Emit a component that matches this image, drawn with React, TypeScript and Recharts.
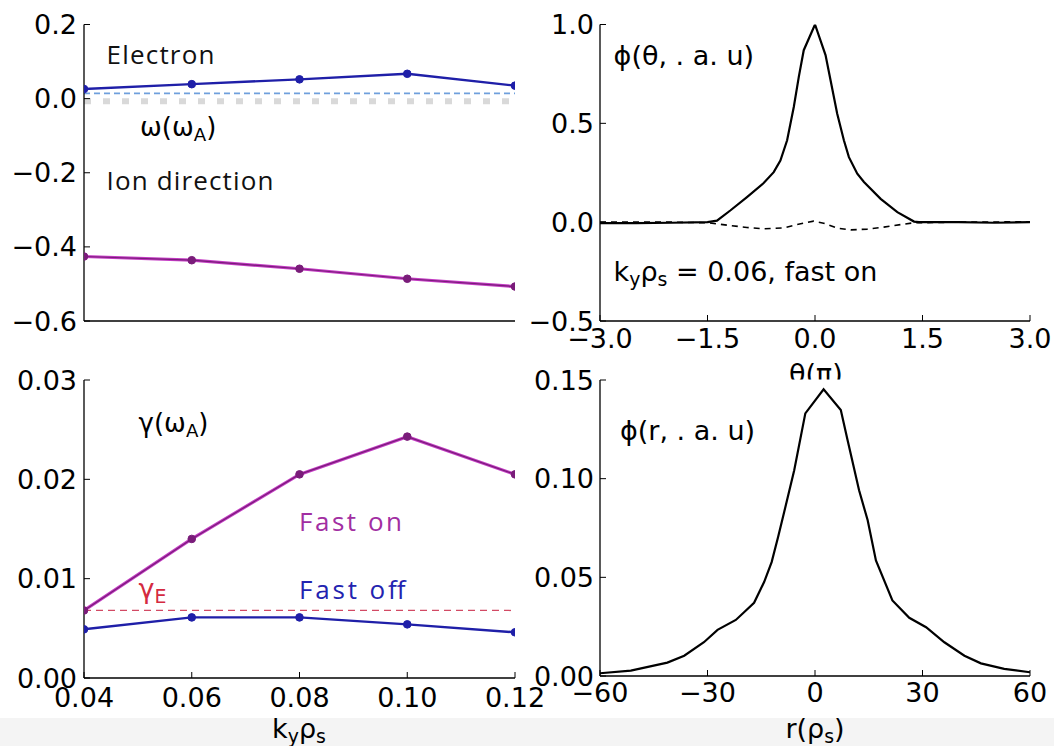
import React from 'react';
import { LineChart, Line, XAxis, YAxis, ReferenceLine } from 'recharts';

const W = 1054;
const H = 746;

// ---------- data ----------
const kValues = [0.04, 0.06, 0.08, 0.1, 0.12];
const omegaFastOff = [0.026, 0.039, 0.052, 0.067, 0.035];
const omegaFastOn = [-0.426, -0.436, -0.459, -0.486, -0.507];
const omegaRefLine = 0.014;
const omegaZeroLine = -0.007;

const gammaFastOn = [0.0068, 0.014, 0.0205, 0.0243, 0.0205];
const gammaFastOff = [0.0049, 0.0061, 0.0061, 0.0054, 0.0046];
const gammaE = 0.0068;

const thetaSolid = [-3.0, -2.5, -2.0, -1.5, -1.368, -1.182, -0.949, -0.716, -0.576, -0.483, -0.389, -0.296, -0.226, -0.157, 0.0, 0.147, 0.217, 0.31, 0.403, 0.473, 0.59, 0.683, 0.916, 1.149, 1.382, 1.45, 2.0, 2.5, 3.0];
const phiSolid = [-0.005, -0.005, -0.003, 0.0, 0.008, 0.059, 0.127, 0.198, 0.253, 0.312, 0.414, 0.583, 0.735, 0.87, 1.0, 0.845, 0.718, 0.549, 0.414, 0.329, 0.245, 0.203, 0.118, 0.051, 0.003, 0.0, 0.0, -0.003, 0.0];
const thetaDash = [-3.0, -2.0, -1.5, -1.18, -0.95, -0.72, -0.44, -0.2, -0.02, 0.12, 0.31, 0.5, 0.73, 0.96, 1.2, 1.38, 2.0, 3.0];
const phiDash = [0.0, 0.0, -0.003, -0.017, -0.027, -0.034, -0.029, -0.008, 0.005, -0.005, -0.03, -0.039, -0.035, -0.025, -0.012, -0.003, 0.0, 0.002];

const rValues = [-60, -51.4, -41.2, -36.5, -31, -27.2, -22.1, -19.8, -17, -14.2, -12.1, -10.3, -8.6, -5.8, -2.7, 2.4, 7.2, 9.1, 12.3, 14.7, 17, 21.6, 26.3, 31, 36.1, 41.7, 46.3, 52.8, 60];
const phiR = [0.0014, 0.0027, 0.0068, 0.0103, 0.0171, 0.0234, 0.0284, 0.0323, 0.0371, 0.0476, 0.0577, 0.0704, 0.0831, 0.1043, 0.1331, 0.1453, 0.1348, 0.1195, 0.0941, 0.0789, 0.0586, 0.0383, 0.0295, 0.0247, 0.0171, 0.0103, 0.0064, 0.0036, 0.0019];

// ---------- ticks ----------
const kTicks = [0.04, 0.06, 0.08, 0.1, 0.12];
const kTickLabels = ['0.04', '0.06', '0.08', '0.10', '0.12'];
const omegaTicks = [0.2, 0, -0.2, -0.4, -0.6];
const omegaTickLabels = ['0.2', '0.0', '\u22120.2', '\u22120.4', '\u22120.6'];
const gammaTicks = [0, 0.01, 0.02, 0.03];
const gammaTickLabels = ['0.00', '0.01', '0.02', '0.03'];
const thetaTicks = [-3, -1.5, 0, 1.5, 3];
const thetaTickLabels = ['\u22123.0', '\u22121.5', '0.0', '1.5', '3.0'];
const phiThetaTicks = [-0.5, 0, 0.5, 1];
const phiThetaTickLabels = ['\u22120.5', '0.0', '0.5', '1.0'];
const rTicks = [-60, -30, 0, 30, 60];
const rTickLabels = ['\u221260', '\u221230', '0', '30', '60'];
const phiRTicks = [0, 0.05, 0.1, 0.15];
const phiRTickLabels = ['0.00', '0.05', '0.10', '0.15'];

const toPoints = (xs: number[], ys: number[]) => xs.map((x, i) => ({ x, y: ys[i] }));

const FONT = '"DejaVu Sans", Verdana, sans-serif';
const ANNOT = '"Open Sans", Lato, sans-serif';
const tickStyle = { fontFamily: FONT, fontSize: 27, fill: '#000' };

const BLUE = '#1f1fa8';
const PURPLE_DARK = '#7a1c7a';
const PURPLE_GLOW = '#c43cc4';

function fmt(values: number[], labels: string[]) {
  return (v: number) => {
    const i = values.findIndex((t) => Math.abs(t - v) < 1e-9);
    return i >= 0 ? labels[i] : '';
  };
}

type Frame = { left: number; right: number; top: number; bottom: number };

function Panel(props: {
  frame: Frame;
  xDomain: [number, number];
  xTicks: number[];
  xLabels: string[];
  showX: boolean;
  xMargin: number;
  yDomain: [number, number];
  yTicks: number[];
  yLabels: string[];
  yMargin: number;
  children: React.ReactNode;
}) {
  const { frame, xDomain, xTicks, xLabels, showX, xMargin, yDomain, yTicks, yLabels, yMargin, children } = props;
  const yW = 80;
  const xH = 45;
  const margin = {
    top: frame.top,
    right: W - frame.right,
    bottom: H - frame.bottom - xH,
    left: frame.left - yW,
  };
  const axisLine = { stroke: '#000', strokeWidth: 1.3 };
  const tickLine = { stroke: '#000', strokeWidth: 1 };
  return (
    <div style={{ position: 'absolute', left: 0, top: 0, width: W, height: H }}>
      <LineChart width={W} height={H} margin={margin}>
        <XAxis
          xAxisId="b"
          type="number"
          dataKey="x"
          domain={xDomain}
          ticks={xTicks}
          allowDataOverflow
          interval={0}
          height={xH}
          tick={showX ? tickStyle : false}
          tickFormatter={fmt(xTicks, xLabels)}
          tickSize={-6}
          tickMargin={xMargin}
          axisLine={axisLine}
          tickLine={tickLine}
        />
        <XAxis
          xAxisId="t"
          orientation="top"
          type="number"
          domain={xDomain}
          ticks={xTicks}
          allowDataOverflow
          interval={0}
          height={0}
          tick={false}
          tickSize={-6}
          axisLine={axisLine}
          tickLine={tickLine}
        />
        <YAxis
          yAxisId="l"
          type="number"
          domain={yDomain}
          ticks={yTicks}
          allowDataOverflow
          interval={0}
          width={yW}
          tick={tickStyle}
          tickFormatter={fmt(yTicks, yLabels)}
          tickSize={-6}
          tickMargin={yMargin}
          axisLine={axisLine}
          tickLine={tickLine}
        />
        <YAxis
          yAxisId="r"
          orientation="right"
          type="number"
          domain={yDomain}
          ticks={yTicks}
          allowDataOverflow
          interval={0}
          width={0}
          tick={false}
          tickSize={-6}
          axisLine={axisLine}
          tickLine={tickLine}
        />
        {children}
      </LineChart>
    </div>
  );
}

function Sub(props: { x: number; y: number; parts: [string, boolean][]; size: number; fill?: string; anchor?: 'start' | 'middle' | 'end'; family?: string }) {
  const { x, y, parts, size, fill = '#000', anchor = 'start', family = FONT } = props;
  let sub = false;
  return (
    <text x={x} y={y} fontFamily={family} fontSize={size} fill={fill} textAnchor={anchor}>
      {parts.map(([s, isSub], i) => {
        let dy = 0;
        if (isSub && !sub) dy = size * 0.2;
        if (!isSub && sub) dy = -size * 0.2;
        sub = isSub;
        return (
          <tspan key={i} dy={dy} fontSize={isSub ? size * 0.7 : size}>
            {s}
          </tspan>
        );
      })}
    </text>
  );
}

export default function App() {
  const tlFrame = { left: 84, right: 515, top: 24.5, bottom: 321 };
  const blFrame = { left: 84, right: 515, top: 380, bottom: 678 };
  const trFrame = { left: 600, right: 1030, top: 24.5, bottom: 321 };
  const brFrame = { left: 600, right: 1030, top: 380, bottom: 676 };

  const omegaOffPts = toPoints(kValues, omegaFastOff);
  const omegaOnPts = toPoints(kValues, omegaFastOn);
  const gammaOnPts = toPoints(kValues, gammaFastOn);
  const gammaOffPts = toPoints(kValues, gammaFastOff);
  const solidPts = toPoints(thetaSolid, phiSolid);
  const dashPts = toPoints(thetaDash, phiDash);
  const rPts = toPoints(rValues, phiR);

  return (
    <div style={{ position: 'absolute', left: 0, top: 0, width: W, height: H, background: '#fff', overflow: 'hidden' }}>
      <div style={{ position: 'absolute', left: 0, top: 718, width: W, height: H - 718, background: '#f4f4f4' }} />

      {/* top-left: omega */}
      <Panel frame={tlFrame} xDomain={[0.04, 0.12]} xTicks={kTicks} xLabels={kTickLabels} showX={false} xMargin={15}
        yDomain={[-0.6, 0.2]} yTicks={omegaTicks} yLabels={omegaTickLabels} yMargin={13}>
        <ReferenceLine xAxisId="b" yAxisId="l" y={omegaZeroLine} stroke="#d9d9d9" strokeWidth={6} strokeDasharray="7 12" />
        <ReferenceLine xAxisId="b" yAxisId="l" y={omegaRefLine} stroke="#6f9fdc" strokeWidth={1.8} strokeDasharray="6 4" />
        <Line xAxisId="b" yAxisId="l" data={omegaOffPts} dataKey="y" type="linear" stroke={BLUE} strokeWidth={2.4}
          dot={{ r: 3.8, fill: BLUE, stroke: BLUE, strokeWidth: 1 }} isAnimationActive={false} />
        <Line xAxisId="b" yAxisId="l" data={omegaOnPts} dataKey="y" type="linear" stroke={PURPLE_GLOW} strokeWidth={3.2}
          dot={false} isAnimationActive={false} />
        <Line xAxisId="b" yAxisId="l" data={omegaOnPts} dataKey="y" type="linear" stroke={PURPLE_DARK} strokeWidth={1.2}
          dot={{ r: 3.8, fill: PURPLE_DARK, stroke: PURPLE_DARK, strokeWidth: 1 }} isAnimationActive={false} />
      </Panel>

      {/* bottom-left: gamma */}
      <Panel frame={blFrame} xDomain={[0.04, 0.12]} xTicks={kTicks} xLabels={kTickLabels} showX={true} xMargin={16}
        yDomain={[0, 0.03]} yTicks={gammaTicks} yLabels={gammaTickLabels} yMargin={13}>
        <ReferenceLine xAxisId="b" yAxisId="l" y={gammaE} stroke="#d24a64" strokeWidth={1.3} strokeDasharray="7 5" />
        <Line xAxisId="b" yAxisId="l" data={gammaOffPts} dataKey="y" type="linear" stroke={BLUE} strokeWidth={2.4}
          dot={{ r: 3.8, fill: BLUE, stroke: BLUE, strokeWidth: 1 }} isAnimationActive={false} />
        <Line xAxisId="b" yAxisId="l" data={gammaOnPts} dataKey="y" type="linear" stroke={PURPLE_GLOW} strokeWidth={3.2}
          dot={false} isAnimationActive={false} />
        <Line xAxisId="b" yAxisId="l" data={gammaOnPts} dataKey="y" type="linear" stroke={PURPLE_DARK} strokeWidth={1.2}
          dot={{ r: 3.8, fill: PURPLE_DARK, stroke: PURPLE_DARK, strokeWidth: 1 }} isAnimationActive={false} />
      </Panel>

      {/* top-right: phi(theta) */}
      <Panel frame={trFrame} xDomain={[-3, 3]} xTicks={thetaTicks} xLabels={thetaTickLabels} showX={true} xMargin={14}
        yDomain={[-0.5, 1]} yTicks={phiThetaTicks} yLabels={phiThetaTickLabels} yMargin={12}>
        <Line xAxisId="b" yAxisId="l" data={dashPts} dataKey="y" type="linear" stroke="#000" strokeWidth={1.6}
          strokeDasharray="6 5" dot={false} isAnimationActive={false} />
        <Line xAxisId="b" yAxisId="l" data={solidPts} dataKey="y" type="linear" stroke="#000" strokeWidth={2.2}
          dot={false} isAnimationActive={false} />
      </Panel>

      {/* bottom-right: phi(r) */}
      <Panel frame={brFrame} xDomain={[-60, 60]} xTicks={rTicks} xLabels={rTickLabels} showX={true} xMargin={13}
        yDomain={[0, 0.15]} yTicks={phiRTicks} yLabels={phiRTickLabels} yMargin={12}>
        <Line xAxisId="b" yAxisId="l" data={rPts} dataKey="y" type="linear" stroke="#000" strokeWidth={2.2}
          dot={false} isAnimationActive={false} />
      </Panel>

      {/* annotations */}
      <svg width={W} height={H} style={{ position: 'absolute', left: 0, top: 0, pointerEvents: 'none' }}>
        <defs>
          <clipPath id="thetaClip">
            <rect x={600} y={330} width={430} height={49.5} />
          </clipPath>
        </defs>
        <text x={106.5} y={64} fontFamily={ANNOT} fontSize={26} fill="#111" textLength={108} lengthAdjust="spacing">Electron</text>
        <text x={106.5} y={190} fontFamily={ANNOT} fontSize={26} fill="#111" textLength={167} lengthAdjust="spacing">Ion direction</text>
        <Sub x={140} y={136} size={26} parts={[['\u03c9(\u03c9', false], ['A', true], [')', false]]} />

        <Sub x={138.6} y={432} size={26} parts={[['\u03b3(\u03c9', false], ['A', true], [')', false]]} />
        <Sub x={138.6} y={598} size={27} fill="#d42a40" parts={[['\u03b3', false], ['E', true]]} />
        <text x={299} y={530.5} fontFamily={ANNOT} fontSize={26} fill="#a22ea2" textLength={103} lengthAdjust="spacing">Fast on</text>
        <text x={299} y={599} fontFamily={ANNOT} fontSize={26} fill="#2323b0" textLength={106.5} lengthAdjust="spacing">Fast off</text>

        <text x={613.6} y={65} fontFamily={FONT} fontSize={27} fill="#000">{'\u03d5(\u03b8, . a. u)'}</text>
        <Sub x={613.6} y={280.5} size={27} parts={[['k', false], ['y', true], ['\u03c1', false], ['s', true], [' = 0.06, fast on', false]]} />
        <text x={620} y={440} fontFamily={FONT} fontSize={27} fill="#000">{'\u03d5(r, . a. u)'}</text>

        <g clipPath="url(#thetaClip)">
          <text x={815.8} y={383} fontFamily={FONT} fontSize={27} fill="#000" textAnchor="middle">{'\u03b8(\u03c0)'}</text>
        </g>
        <Sub x={299} y={738} size={27} anchor="middle" parts={[['k', false], ['y', true], ['\u03c1', false], ['s', true]]} />
        <Sub x={815} y={738} size={27} anchor="middle" parts={[['r(\u03c1', false], ['s', true], [')', false]]} />
      </svg>
    </div>
  );
}
